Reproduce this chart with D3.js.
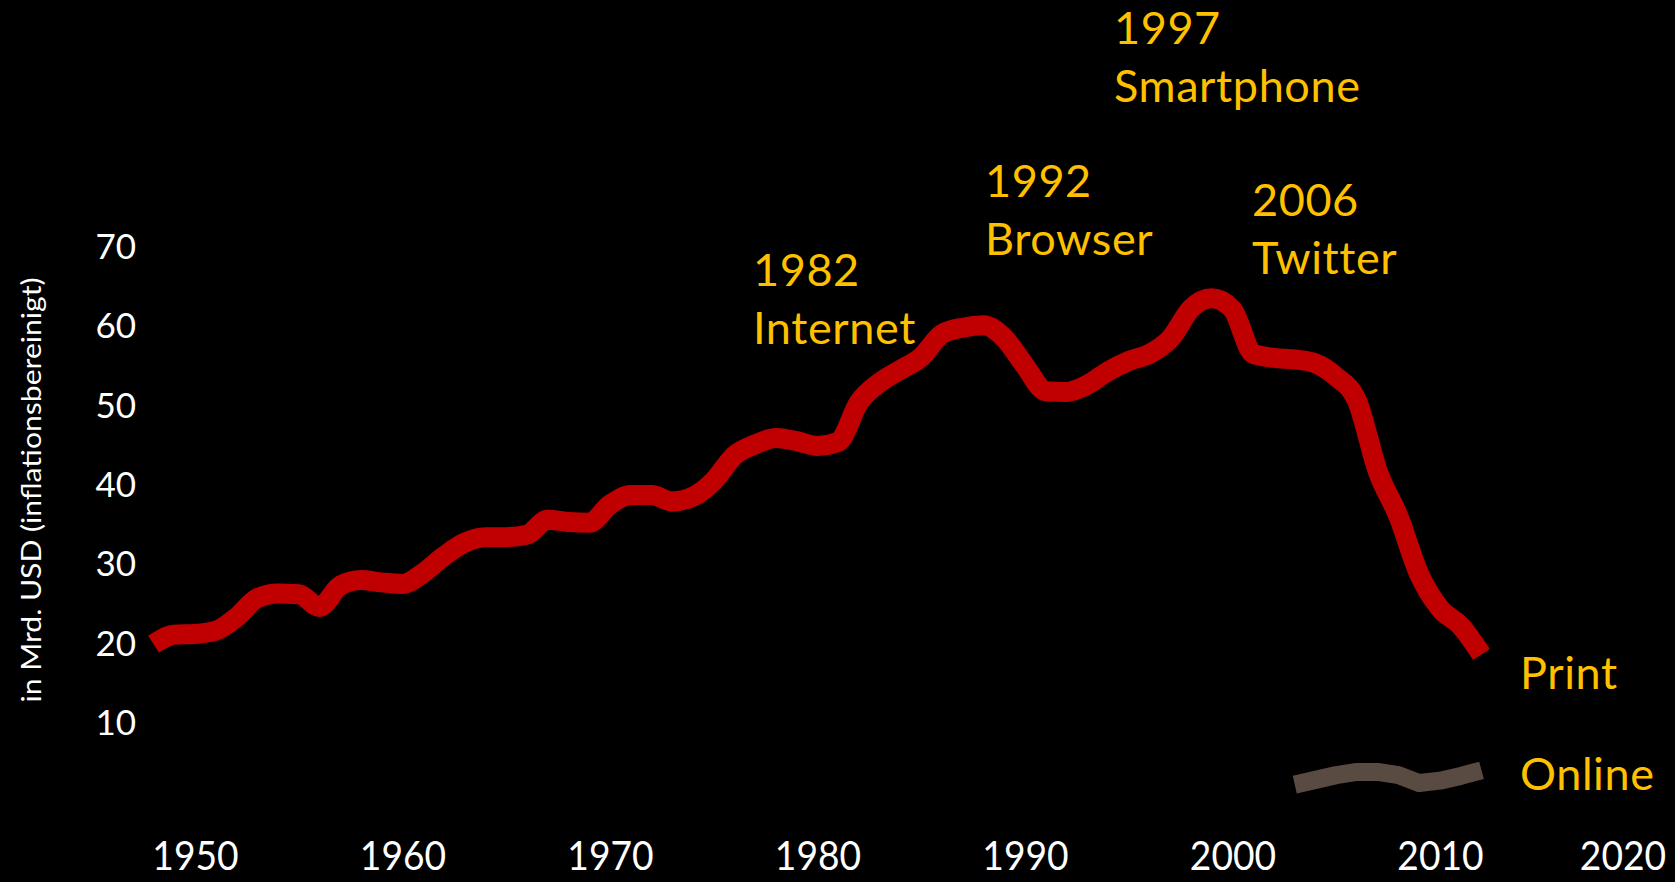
<!DOCTYPE html>
<html>
<head>
<meta charset="utf-8">
<script src="https://cdn.jsdelivr.net/npm/d3@7"></script>
<style>
  html, body { margin: 0; padding: 0; background: #000; }
  svg { display: block; }
</style>
</head>
<body>
<svg id="chart" width="1675" height="882"></svg>
<script>
// Werbeumsatz US-Zeitungen, Mrd. USD (inflationsbereinigt)
var printYears = [1948, 1949, 1950, 1951, 1952, 1953, 1954, 1955, 1956, 1957,
    1958, 1959, 1960, 1961, 1962, 1963, 1964, 1965, 1966, 1967,
    1968, 1969, 1970, 1971, 1972, 1973, 1974, 1975, 1976, 1977,
    1978, 1979, 1980, 1981, 1982, 1983, 1984, 1985, 1986, 1987,
    1988, 1989, 1990, 1991, 1992, 1993, 1994, 1995, 1996, 1997,
    1998, 1999, 2000, 2001, 2002, 2003, 2004, 2005, 2006, 2007,
    2008, 2009, 2010, 2011, 2012];
var printValues = [19.8, 21.0, 21.1, 21.5, 23.2, 25.6, 26.2, 26.1, 24.5, 27.2,
    27.9, 27.6, 27.4, 28.8, 30.9, 32.6, 33.3, 33.3, 33.6, 35.5,
    35.2, 35.1, 37.4, 38.6, 38.6, 37.8, 38.4, 40.4, 43.6, 45.0,
    45.8, 45.4, 44.8, 45.3, 50.3, 52.8, 54.4, 56.0, 58.9, 59.7,
    60.0, 58.4, 54.9, 51.7, 51.6, 52.5, 54.2, 55.5, 56.4, 58.3,
    62.1, 63.4, 62.0, 56.4, 55.9, 55.7, 55.2, 53.5, 50.5, 41.6,
    35.9, 28.6, 24.3, 22.1, 18.5];

var onlineYears = [2003, 2004, 2005, 2006, 2007, 2008, 2009, 2010, 2011, 2012];
var onlineValues = [2.1, 2.7, 3.3, 3.7, 3.7, 3.3, 2.3, 2.6, 3.2, 3.9];

var xTicks = [1950, 1960, 1970, 1980, 1990, 2000, 2010, 2020];
var yTicks = [10, 20, 30, 40, 50, 60, 70];

var eventYears = ['1982', '1992', '1997', '2006'];
var eventNames = ['Internet', 'Browser', 'Smartphone', 'Twitter'];
var seriesNames = ['Print', 'Online'];

// layout (not data)
var eventPos = [[753, 286], [985, 197], [1114, 44], [1252, 216]];
var seriesPos = [[1520, 689], [1520, 790]];

var font = 'Lato, "Open Sans", sans-serif',
    gold = '#FFC000';

var svg = d3.select('#chart');

var xScale = d3.scaleLinear()
    .domain([1950, 2020])
    .range([195, 1647.5]);

var yScale = d3.scaleLinear()
    .domain([0, 70])
    .range([801.3, 246]);

// x axis (labels only)
var xAxis = d3.axisBottom(xScale)
    .tickValues(xTicks)
    .tickFormat(d3.format('d'))
    .tickSize(0);

var gx = svg.append('g')
    .attr('transform', 'translate(0,870)')
    .call(xAxis);
gx.select('.domain').remove();
gx.selectAll('text')
    .attr('y', 0)
    .attr('dy', 0)
    .attr('fill', '#fff')
    .style('font-family', font)
    .style('font-size', '40px')
    .attr('transform', function (d) {
        // last label is pulled in so it stays on the page
        return (d === 2020 ? 'translate(-25,0) ' : '') + 'scale(0.93,1)';
    });

// y axis
var yAxis = d3.axisLeft(yScale)
    .tickValues(yTicks)
    .tickSize(0)
    .tickPadding(0);

var gy = svg.append('g')
    .attr('transform', 'translate(136,0)')
    .call(yAxis);
gy.select('.domain').remove();
gy.selectAll('text')
    .attr('dy', '0.36em')
    .attr('fill', '#fff')
    .style('font-family', font)
    .style('font-size', '35px');

svg.append('text')
    .attr('transform', 'translate(32,490) rotate(-90)')
    .attr('text-anchor', 'middle')
    .attr('dy', '0.35em')
    .attr('fill', '#fff')
    .attr('textLength', 425)
    .attr('lengthAdjust', 'spacingAndGlyphs')
    .style('font-family', font)
    .style('font-size', '27px')
    .text('in Mrd. USD (inflationsbereinigt)');

// lines
var line = d3.line()
    .x(function (d) { return xScale(d[0]); })
    .y(function (d) { return yScale(d[1]); })
    .curve(d3.curveMonotoneX);

svg.append('path')
    .datum(d3.zip(onlineYears, onlineValues))
    .attr('d', line.curve(d3.curveLinear))
    .attr('fill', 'none')
    .attr('stroke', '#594A42')
    .attr('stroke-width', 18)
    .attr('stroke-linejoin', 'round');

svg.append('path')
    .datum(d3.zip(printYears, printValues))
    .attr('d', line.curve(d3.curveMonotoneX))
    .attr('fill', 'none')
    .attr('stroke', '#C00000')
    .attr('stroke-width', 20)
    .attr('stroke-linejoin', 'round');

// event annotations
var ev = svg.selectAll('.event')
    .data(eventYears)
    .enter()
    .append('text')
    .attr('class', 'event')
    .attr('x', function (d, i) { return eventPos[i][0]; })
    .attr('y', function (d, i) { return eventPos[i][1]; })
    .attr('fill', gold)
    .style('font-family', font)
    .style('font-size', '45px')
    .style('letter-spacing', '0.6px');
ev.append('tspan')
    .text(function (d) { return d; });
ev.append('tspan')
    .attr('x', function (d, i) { return eventPos[i][0]; })
    .attr('dy', 58)
    .text(function (d, i) { return eventNames[i]; });

// series labels
svg.selectAll('.series')
    .data(seriesNames)
    .enter()
    .append('text')
    .attr('class', 'series')
    .attr('x', function (d, i) { return seriesPos[i][0]; })
    .attr('y', function (d, i) { return seriesPos[i][1]; })
    .attr('fill', gold)
    .style('font-family', font)
    .style('font-size', '45px')
    .style('letter-spacing', '0.6px')
    .text(function (d) { return d; });
</script>
</body>
</html>
